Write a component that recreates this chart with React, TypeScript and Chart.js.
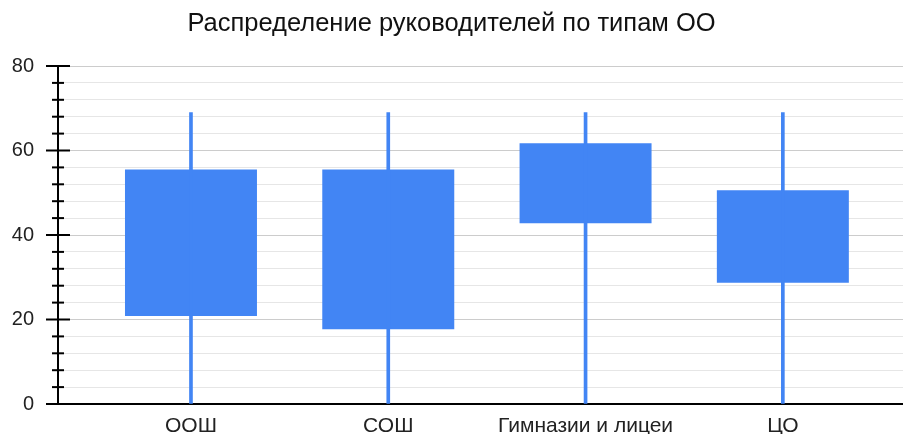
import React, { useEffect, useRef } from "react";
import { Chart, registerables } from "chart.js";

Chart.register(...registerables);

const categories = ["ООШ", "СОШ", "Гимназии и лицеи", "ЦО"];
const whiskerLow = [0, 0, 0, 0];
const whiskerHigh = [69, 69, 69, 69];
const boxLow = [20.8, 17.7, 42.8, 28.7];
const boxHigh = [55.5, 55.5, 61.7, 50.6];
const yTickValues = [0, 20, 40, 60, 80];
const titleText = "Распределение руководителей по типам ОО";

const BLUE = "#4285f4";
const FONT = "'Liberation Sans', Arial, Helvetica, sans-serif";

const axisTicksPlugin = {
  id: "axisTicks",
  afterDraw(chart: any) {
    const y = chart.scales.y;
    const ctx = chart.ctx;
    const ax = y.right;
    ctx.save();
    ctx.strokeStyle = "#000";
    ctx.lineWidth = 2;
    for (const t of y.ticks) {
      const py = y.getPixelForValue(t.value);
      const major = yTickValues.includes(t.value);
      const half = major ? 12 : 6;
      ctx.beginPath();
      ctx.moveTo(ax - half, py);
      ctx.lineTo(ax + half, py);
      ctx.stroke();
    }
    ctx.restore();
  },
};

export default function App() {
  const ref = useRef<HTMLCanvasElement | null>(null);
  useEffect(() => {
    if (!ref.current) return;
    const chart = new Chart(ref.current, {
      type: "bar",
      data: {
        datasets: [
          {
            label: "whisker",
            data: categories.map((_, i) => ({ x: i, y: [whiskerLow[i], whiskerHigh[i]] })) as any,
            backgroundColor: BLUE,
            grouped: false,
            barPercentage: 1,
            categoryPercentage: 1,
            maxBarThickness: 3,
            borderWidth: 0,
          } as any,
          {
            label: "box",
            data: categories.map((_, i) => ({ x: i, y: [boxLow[i], boxHigh[i]] })) as any,
            backgroundColor: BLUE,
            grouped: false,
            barPercentage: 0.669,
            categoryPercentage: 1,
            borderWidth: 0,
          } as any,
        ],
      },
      options: {
        animation: false,
        responsive: false,
        layout: { padding: 0 },
        plugins: {
          legend: { display: false },
          tooltip: { enabled: false },
          title: {
            display: true,
            text: titleText,
            color: "#111",
            font: { family: FONT, size: 25.5, weight: "normal" },
            padding: { top: 9, bottom: 26.4 },
          },
        },
        scales: {
          x: {
            type: "linear",
            offset: false,
            min: -0.674,
            max: 3.609,
            grid: { display: false },
            border: { display: true, color: "#000", width: 2 },
            afterBuildTicks: (s: any) => {
              s.ticks = categories.map((_, i) => ({ value: i }));
            },
            afterFit: (s: any) => {
              s.height = 30;
            },
            ticks: {
              autoSkip: false,
              maxRotation: 0,
              padding: 2,
              color: "#222",
              font: { family: FONT, size: 21 },
              callback: (v: any) => categories[Math.round(Number(v))] ?? "",
            },
          },
          y: {
            type: "linear",
            min: 0,
            max: 80,
            grid: {
              drawTicks: true,
              tickLength: 24,
              tickColor: "rgba(0,0,0,0)",
              color: (c: any) => (c.tick && yTickValues.includes(c.tick.value) ? "#cccccc" : "#e6e6e6"),
              lineWidth: 1,
            },
            border: { display: true, color: "#000", width: 2 },
            afterFit: (s: any) => {
              s.width = 58;
            },
            ticks: {
              stepSize: 4,
              autoSkip: false,
              padding: 0,
              color: "#222",
              font: { family: FONT, size: 20 },
              callback: (v: any) => (yTickValues.includes(Number(v)) ? String(v) : ""),
            },
          },
        },
      } as any,
      plugins: [axisTicksPlugin],
    });
    return () => chart.destroy();
  }, []);
  return (
    <canvas
      ref={ref}
      width={903}
      height={434}
      style={{ position: "absolute", left: 0, top: 0, width: 903, height: 434 }}
    />
  );
}
